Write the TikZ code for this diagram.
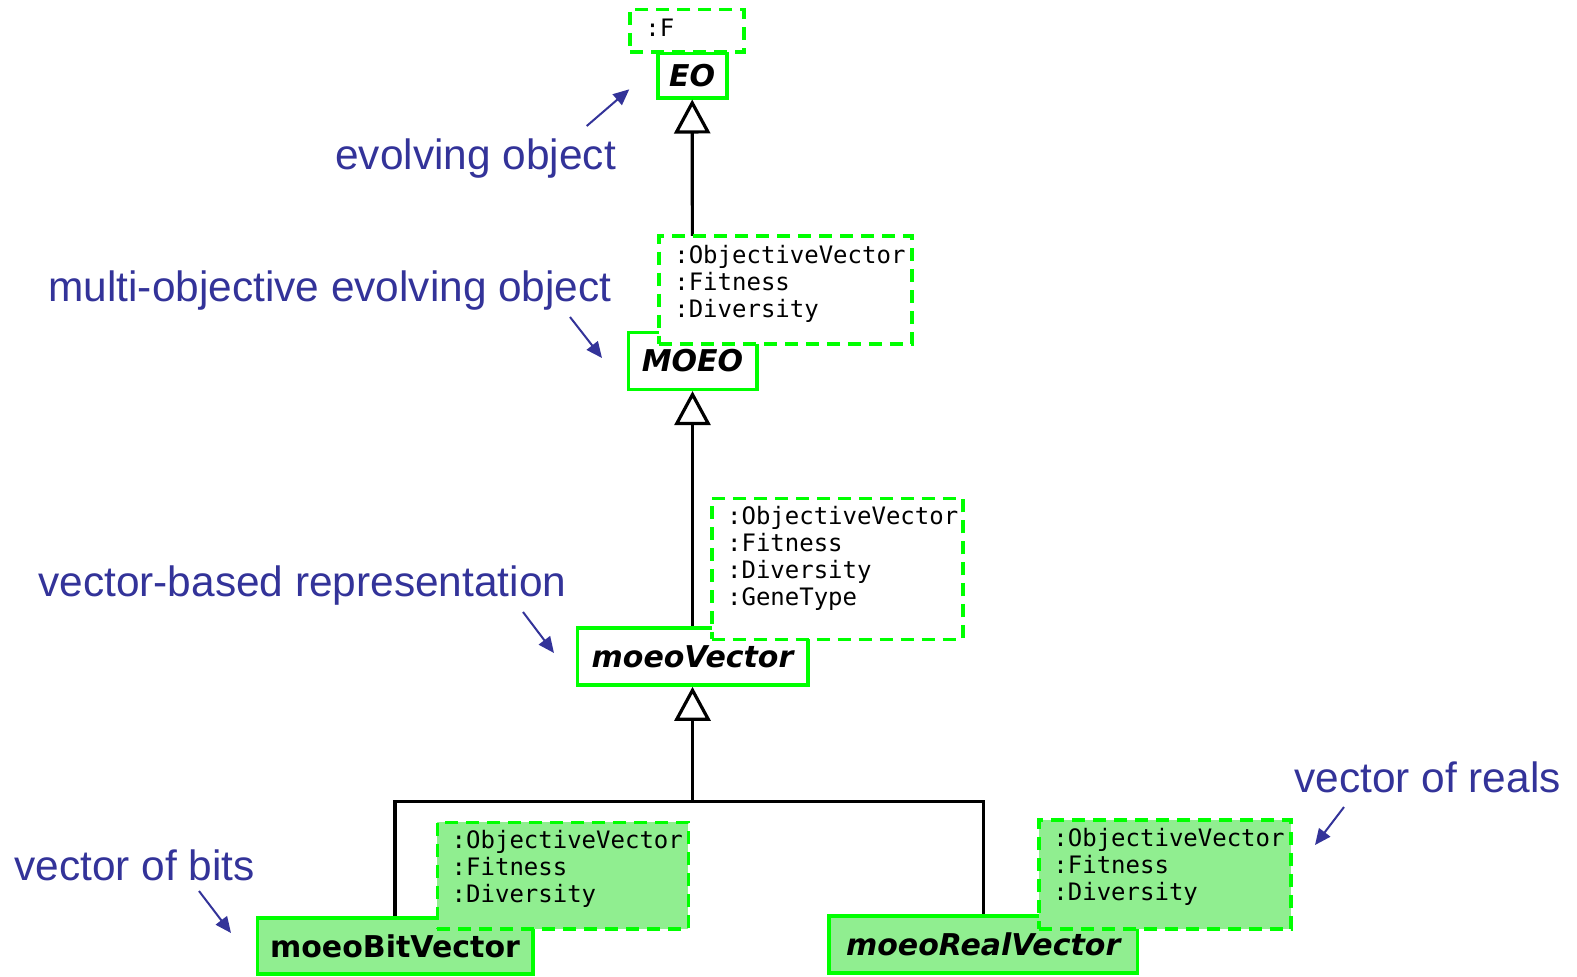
\documentclass[tikz,border=0pt]{standalone}
\usepackage{fontspec}
\usetikzlibrary{arrows.meta}
\newfontfamily\notefont{Liberation Sans}
\newfontfamily\classfont{DejaVu Sans}
\newfontfamily\attrfont{DejaVu Sans Mono}
\definecolor{umlgreen}{RGB}{0,255,0}
\definecolor{umlfill}{RGB}{144,238,144}
\definecolor{noteblue}{RGB}{51,51,153}
\tikzset{
	classbox/.style={draw=umlgreen, line width=1.8pt, fill=white, inner sep=0pt, font=\classfont\fontsize{15}{18}\selectfont\bfseries\itshape},
	attrbox/.style={draw=umlgreen, line width=1.8pt, dash pattern=on 6.5pt off 4pt, fill=white, inner sep=0pt, outer sep=0pt},
	attrtext/.style={inner sep=0pt, align=left, anchor=base west, font=\attrfont\fontsize{12}{13.6}\selectfont},
	inherit/.style={line width=1.6pt, -{Triangle[open, length=17pt, width=18pt]}},
	assoc/.style={line width=1.6pt},
	note/.style={inner sep=0pt, anchor=base west, text=noteblue, font=\notefont\fontsize{21.2}{25}\selectfont},
	notearrow/.style={draw=noteblue, line width=1pt, -{Triangle[length=8pt, width=7pt]}}
}

\begin{document}
\begin{tikzpicture}[x=0.5pt, y=-0.5pt]
			%%%%% START %%%%%
			\useasboundingbox (0,0) rectangle (1577,976);
			
			\node[classbox, minimum width=34.5pt, minimum height=22.2pt] (eo) at (692.2,75.5) {EO};
			\node[classbox, minimum width=64.2pt, minimum height=28.5pt] (moeo) at (692.5,360.8) {MOEO};
			\node[classbox, minimum width=115.2pt, minimum height=28.6pt] (vec) at (692.5,656.4) {moeoVector};
			\node[classbox, fill=umlfill, minimum width=137.7pt, minimum height=28.2pt] (bit) at (395,945.9) {\upshape moeoBitVector};
			\node[classbox, fill=umlfill, minimum width=154.4pt, minimum height=28.6pt] (real) at (983.2,944.5) {moeoRealVector};
			
			\draw[inherit] (moeo.north) -- (eo.south);
			\draw[inherit] (vec.north) -- (moeo.south);
			\coordinate (bar) at (692.5,801.7);
			\draw[assoc] (bit.north) |- (bar) -| (real.north);
			\draw[inherit] (bar) -- (vec.south);
			
			% text anchored on the baseline of its last line
			\node[attrbox, minimum width=57pt, minimum height=21.2pt] (eoattr) at (687,30.5) {};
			\node[attrtext] (eoattrtxt) at ([shift={(15,27.4)}]eoattr.north west) {:F};
			
			\node[attrbox, minimum width=126.4pt, minimum height=54.2pt] (moeoattr) at (785.3,289.9) {};
			\node[attrtext] (moeoattrtxt) at ([shift={(15,82)}]moeoattr.north west) {:ObjectiveVector\\:Fitness\\:Diversity};
			
			\node[attrbox, minimum width=125.5pt, minimum height=70.5pt] (vecattr) at (837.2,568.8) {};
			\node[attrtext] (vecattrtxt) at ([shift={(15,107.6)}]vecattr.north west) {:ObjectiveVector\\:Fitness\\:Diversity\\:GeneType};
			
			\node[attrbox, fill=umlfill, minimum width=125.5pt, minimum height=53.4pt] (bitattr) at (562.8,875.7) {};
			\node[attrtext] (bitattrtxt) at ([shift={(14,80.4)}]bitattr.north west) {:ObjectiveVector\\:Fitness\\:Diversity};
			
			\node[attrbox, fill=umlfill, minimum width=126pt, minimum height=54.5pt] (realattr) at (1165,874.5) {};
			\node[attrtext] (realattrtxt) at ([shift={(14,80.4)}]realattr.north west) {:ObjectiveVector\\:Fitness\\:Diversity};
			
			\node[note] (evolab) at (335,169) {evolving object};
			\coordinate (evofrom) at (586.7,126);
			\coordinate (evoto) at (629.3,89.3);
			\draw[notearrow] (evofrom) -- (evoto);
			
			\node[note] (moeolab) at (48,301.7) {multi-objective evolving object};
			\coordinate (moeofrom) at (570,317);
			\coordinate (moeoto) at (602,358);
			\draw[notearrow] (moeofrom) -- (moeoto);
			
			\node[note] (veclab) at (38,596.7) {vector-based representation};
			\coordinate (vecfrom) at (523,612);
			\coordinate (vecto) at (554,653);
			\draw[notearrow] (vecfrom) -- (vecto);
			
			\node[note] (bitlab) at (14,880.7) {vector of bits};
			\coordinate (bitfrom) at (199,891);
			\coordinate (bitto) at (231,933);
			\draw[notearrow] (bitfrom) -- (bitto);
			
			\node[note] (reallab) at (1294,792.7) {vector of reals};
			\coordinate (realfrom) at (1344,807);
			\coordinate (realto) at (1315,845);
			\draw[notearrow] (realfrom) -- (realto);
			
			%%%%% END %%%%%
\end{tikzpicture}
\end{document}
